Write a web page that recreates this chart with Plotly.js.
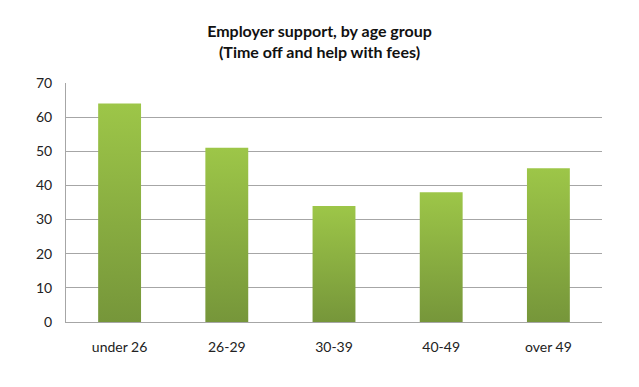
<!DOCTYPE html>
<html>
<head>
<meta charset="utf-8">
<script src="https://cdn.plot.ly/plotly-3.0.1.min.js"></script>
<style>html,body{margin:0;padding:0;background:#fff;}</style>
</head>
<body>
<div id="chart" style="width:639px;height:387px;"></div>
<script>
const categories = ["under 26", "26-29", "30-39", "40-49", "over 49"];
const values = [64, 51, 34, 38, 45];
const yTicks = [0, 10, 20, 30, 40, 50, 60, 70];

const trace = {
  type: "bar",
  x: categories,
  y: values,
  marker: {color: "#8cb043", line: {width: 0}},
  hoverinfo: "none"
};

const FONT = "Lato, 'Open Sans', sans-serif";

const layout = {
  width: 639, height: 387,
  margin: {l: 66, r: 37, t: 83, b: 65},
  paper_bgcolor: "#fff", plot_bgcolor: "#fff",
  bargap: 0.6,
  showlegend: false,
  title: {
    text: "<b>Employer support, by age group<br>(Time off and help with fees)</b>",
    x: 0.5, xanchor: "center", y: 0.904, yanchor: "top",
    font: {family: FONT, size: 16, color: "#111"}
  },
  xaxis: {
    showgrid: false, showline: true, linecolor: "#a6a6a6", linewidth: 1,
    ticks: "", tickfont: {family: FONT, size: 14, color: "#222"},
    ticklabelstandoff: 12
  },
  yaxis: {
    range: [0, 70], tickvals: yTicks, ticktext: yTicks.map(String),
    showgrid: true, gridcolor: "#a6a6a6", gridwidth: 1,
    showline: true, linecolor: "#a6a6a6", linewidth: 1,
    zeroline: false, ticks: "",
    ticklabelstandoff: 10,
    tickfont: {family: FONT, size: 14, color: "#222"}
  }
};

Plotly.newPlot("chart", [trace], layout, {displayModeBar: false, staticPlot: true}).then(function (gd) {
  const svg = gd.querySelector("svg.main-svg");
  const ns = "http://www.w3.org/2000/svg";
  let defs = svg.querySelector("defs");
  if (!defs) { defs = document.createElementNS(ns, "defs"); svg.insertBefore(defs, svg.firstChild); }
  const g = document.createElementNS(ns, "linearGradient");
  g.setAttribute("id", "barGrad");
  g.setAttribute("x1", "0"); g.setAttribute("y1", "0");
  g.setAttribute("x2", "0"); g.setAttribute("y2", "1");
  [["0", "#9dc648"], ["1", "#76963a"]].forEach(function (s) {
    const st = document.createElementNS(ns, "stop");
    st.setAttribute("offset", s[0]); st.setAttribute("stop-color", s[1]);
    g.appendChild(st);
  });
  defs.appendChild(g);
  gd.querySelectorAll(".bars .point path").forEach(function (p) {
    p.style.fill = "url(#barGrad)";
  });
});
</script>
</body>
</html>
